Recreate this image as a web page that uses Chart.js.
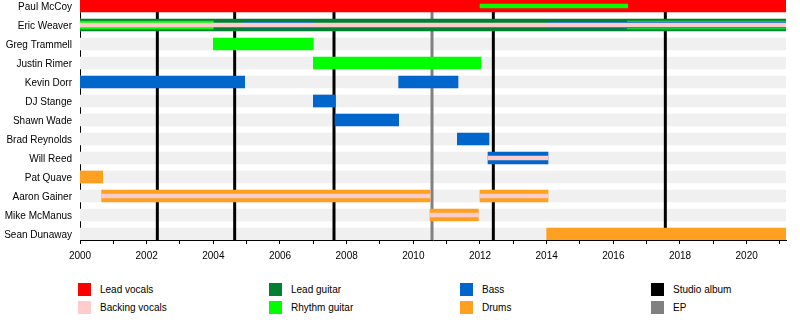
<!DOCTYPE html>
<html>
<head>
<meta charset="utf-8">
<script src="https://cdn.jsdelivr.net/npm/chart.js@4/dist/chart.umd.min.js"></script>
<style>
  html, body { margin: 0; padding: 0; background: #fff; }
  #wrap { position: relative; width: 800px; height: 330px; font-family: "Liberation Sans", Arial, sans-serif; }
  #c { position: absolute; left: 0; top: 0; }
  .lg { position: absolute; height: 13px; font-size: 10px; line-height: 13px; color: #000; white-space: nowrap; }
  .lg i { position: absolute; left: 0; top: 0; width: 13px; height: 13px; }
  .lg span { position: absolute; left: 22px; top: 0; }
</style>
</head>
<body>
<div id="wrap">
  <canvas id="c" width="800" height="270"></canvas>
  <div id="legend"></div>
</div>
<script>
// ---------------- DATA ----------------
const END = 2021.18;
const START = 2000;
const members = ["Paul McCoy", "Eric Weaver", "Greg Trammell", "Justin Rimer", "Kevin Dorr", "DJ Stange",
  "Shawn Wade", "Brad Reynolds", "Will Reed", "Pat Quave", "Aaron Gainer", "Mike McManus", "Sean Dunaway"];
const years = [2000, 2001, 2002, 2003, 2004, 2005, 2006, 2007, 2008, 2009, 2010,
  2011, 2012, 2013, 2014, 2015, 2016, 2017, 2018, 2019, 2020, 2021];

const leadVocals = [["Paul McCoy", 2000, END]];
const backingVocals = [["Eric Weaver", 2000, END], ["Will Reed", 2012.24, 2014.04],
  ["Aaron Gainer", 2000.65, 2010.5], ["Aaron Gainer", 2012.0, 2014.04], ["Mike McManus", 2010.5, 2011.95]];
const leadGuitar = [["Eric Weaver", 2000, END]];
const rhythmGuitar = [["Paul McCoy", 2012.0, 2016.43], ["Eric Weaver", 2000, 2004.0], ["Eric Weaver", 2016.42, END],
  ["Greg Trammell", 2004.0, 2007.0], ["Justin Rimer", 2007.0, 2012.03]];
const bass = [["Eric Weaver", 2004.9, 2007.0], ["Eric Weaver", 2014.02, END], ["Kevin Dorr", 2000, 2004.94],
  ["Kevin Dorr", 2009.56, 2011.34], ["DJ Stange", 2007.0, 2007.66], ["Shawn Wade", 2007.65, 2009.56],
  ["Brad Reynolds", 2011.32, 2012.27], ["Will Reed", 2012.24, 2014.04]];
const drums = [["Pat Quave", 2000, 2000.68], ["Aaron Gainer", 2000.65, 2010.5], ["Aaron Gainer", 2012.0, 2014.04],
  ["Mike McManus", 2010.5, 2011.95], ["Sean Dunaway", 2014.0, END]];
const studioAlbums = [2002.32, 2004.64, 2007.62, 2012.4, 2017.56];
const eps = [2010.56];

// ---------------- STYLE ----------------
const FONT = "'Liberation Sans', Arial, sans-serif";
const COLORS = {
  "Lead vocals": "#ff0000", "Backing vocals": "#ffcccc", "Lead guitar": "#008033",
  "Rhythm guitar": "#00ff00", "Bass": "#0066cc", "Drums": "#ffa020",
  "Studio album": "#000000", "EP": "#808080"
};
const BAND_BG = "#f0f0f0";
// bar thickness (px) for a role of a member; secondary roles drawn as inner stripes
const stripeThickness = {
  "Backing vocals": () => 4,
  "Rhythm guitar": m => m === "Paul McCoy" ? 4 : (m === "Eric Weaver" ? 8 : 12),
  "Bass": m => m === "Eric Weaver" ? 6 : 12
};
const ROW_PX = 19, BAR_PX = 12;

const roleData = [
  ["Lead vocals", leadVocals], ["Backing vocals", backingVocals], ["Lead guitar", leadGuitar],
  ["Rhythm guitar", rhythmGuitar], ["Bass", bass], ["Drums", drums]
];

const datasets = [{
  label: "_bg", isBackground: true,
  data: members.map((m, i) => ({ x: [START, END], y: i })),
  backgroundColor: BAND_BG, barThickness: BAR_PX, grouped: false, order: 100, borderWidth: 0
}];
roleData.forEach(([role, spans]) => {
  const groups = {};
  spans.forEach(([m, a, b]) => {
    const t = stripeThickness[role] ? stripeThickness[role](m) : BAR_PX;
    (groups[t] = groups[t] || []).push({ x: [a, b], y: members.indexOf(m) });
  });
  Object.keys(groups).forEach(t => {
    datasets.push({
      label: role, data: groups[t], backgroundColor: COLORS[role],
      barThickness: +t, grouped: false, order: +t, borderWidth: 0, borderSkipped: false
    });
  });
});

const linesPlugin = {
  id: "releaseLines",
  afterDatasetDraw(chart, args) {
    if (!chart.data.datasets[args.index].isBackground) return;
    const { ctx, chartArea, scales: { x } } = chart;
    const draw = (vals, color) => vals.forEach(v => {
      const px = x.getPixelForValue(v);
      ctx.save();
      ctx.strokeStyle = color; ctx.lineWidth = 3;
      ctx.beginPath(); ctx.moveTo(px, chartArea.top); ctx.lineTo(px, chartArea.bottom); ctx.stroke();
      ctx.restore();
    });
    draw(eps, COLORS["EP"]);
    draw(studioAlbums, COLORS["Studio album"]);
  }
};

new Chart(document.getElementById("c"), {
  type: "bar",
  data: { datasets },
  plugins: [linesPlugin],
  options: {
    indexAxis: "y",
    responsive: false,
    animation: false,
    events: [],
    layout: { padding: { left: 0, right: 14, top: 0, bottom: 0 } },
    plugins: { legend: { display: false }, tooltip: { enabled: false } },
    scales: {
      x: {
        type: "linear", position: "bottom", min: START, max: END, offset: false,
        border: { display: true, color: "#000", width: 1 },
        grid: { drawOnChartArea: false, drawTicks: true, tickLength: 4, color: "#000" },
        ticks: {
          autoSkip: false, maxRotation: 0, padding: 6, color: "#000",
          font: { family: FONT, size: 10 },
          callback: v => (v % 2 === 0 ? String(v) : "")
        },
        afterBuildTicks: s => { s.ticks = years.map(v => ({ value: v })); },
        afterFit: s => { s.height = 30; s.paddingLeft = 0; s.paddingRight = 0; }
      },
      y: {
        type: "linear", reverse: true, offset: false,
        min: -(BAR_PX / 2) / ROW_PX, max: members.length - 1 + (BAR_PX / 2) / ROW_PX,
        border: { display: true, color: "#000", width: 1 },
        grid: { display: false, drawTicks: false },
        ticks: {
          autoSkip: false, padding: 8, color: "#000", labelOffset: 1,
          font: { family: FONT, size: 10 },
          callback: v => (members[v] !== undefined ? members[v] : "")
        },
        afterBuildTicks: s => { s.ticks = members.map((_, i) => ({ value: i })); },
        afterFit: s => { s.width = 80; s.paddingTop = 0; s.paddingBottom = 0; }
      }
    }
  }
});

// ---------------- LEGEND (HTML) ----------------
const legendColumns = [["Lead vocals", "Backing vocals"], ["Lead guitar", "Rhythm guitar"], ["Bass", "Drums"], ["Studio album", "EP"]];
const lg = document.getElementById("legend");
legendColumns.forEach((col, ci) => col.forEach((name, ri) => {
  const d = document.createElement("div");
  d.className = "lg";
  d.style.left = (78 + ci * 191) + "px";
  d.style.top = (283 + ri * 18) + "px";
  d.innerHTML = '<i style="background:' + COLORS[name] + '"></i><span></span>';
  d.querySelector("span").textContent = name;
  lg.appendChild(d);
}));
</script>
</body>
</html>
